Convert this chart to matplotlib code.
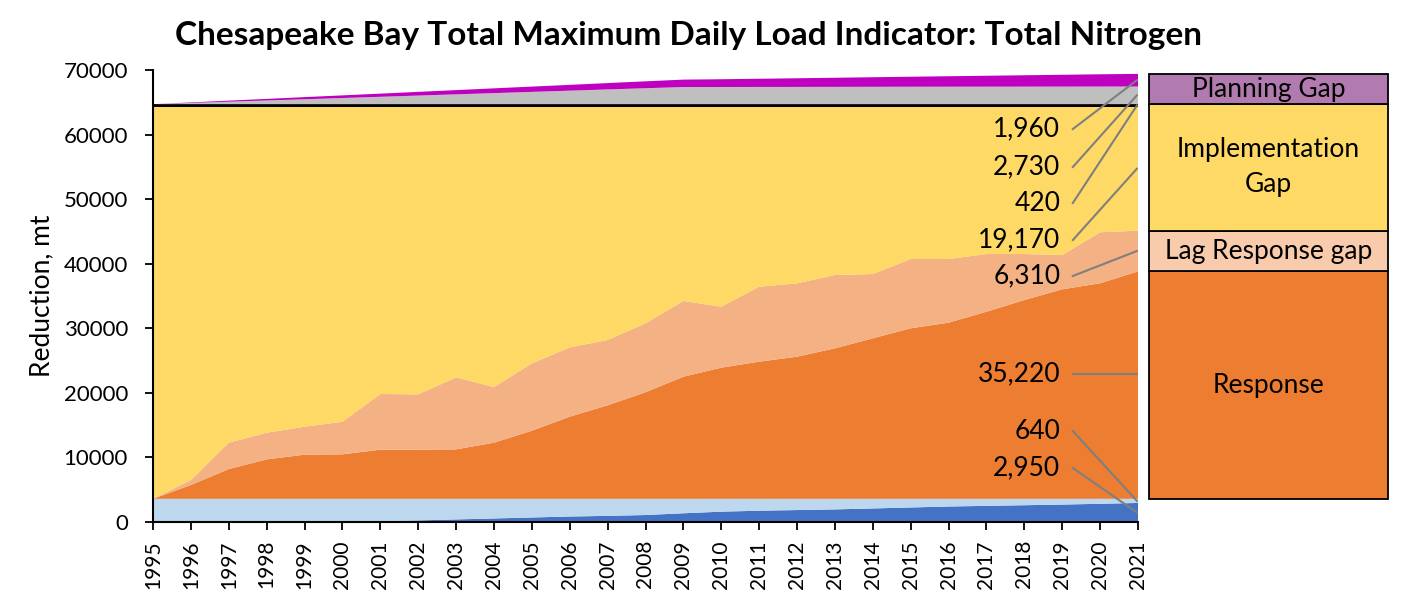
import numpy as np
import matplotlib
matplotlib.use("Agg")
import matplotlib.pyplot as plt

plt.rcParams['font.family'] = ['Lato', 'DejaVu Sans']

# --- Daten ---
years = list(range(1995, 2022))

bmp_dark = [0, 0, 0, 0, 0, 50, 150, 250, 400, 550, 700, 850, 950, 1080,
            1350, 1600, 1750, 1850, 1950, 2100, 2250, 2400, 2500, 2600,
            2700, 2820, 2950]
bmp_light = [3590, 3590, 3590, 3590, 3590, 3540, 3440, 3340, 3190, 3040,
             2890, 2740, 2640, 2510, 2240, 1990, 1840, 1740, 1640, 1490,
             1340, 1190, 1090, 990, 890, 770, 640]
response = [0, 2140, 4610, 6110, 6840, 6890, 7610, 7610, 7660, 8690, 10550,
            12720, 14480, 16510, 18910, 20310, 21240, 22010, 23310, 24860,
            26410, 27280, 28980, 30790, 32450, 33380, 35220]
lag_gap = [0, 770, 4080, 4130, 4330, 5050, 8620, 8570, 11150, 8620, 10430,
           10740, 10120, 10670, 11730, 9450, 11610, 11360, 11350, 9950,
           10730, 9860, 8930, 7120, 5310, 7900, 6310]
impl_gap = [60700, 57790, 52010, 50460, 49530, 48760, 44470, 44520, 41890,
            43390, 39720, 37240, 36100, 33520, 30060, 30940, 27850, 27330,
            26040, 25890, 23560, 23560, 22790, 22790, 22940, 19420, 19170]
black_band = [420] * len(years)
gray_gap = [0, 190, 380, 570, 760, 950, 1140, 1330, 1520, 1710, 1900, 2090,
            2280, 2470, 2650, 2660, 2665, 2670, 2680, 2690, 2700, 2705, 2710,
            2715, 2720, 2725, 2730]
planning = [0, 80, 165, 245, 330, 410, 490, 575, 655, 740, 820, 900, 985,
            1065, 1150, 1200, 1270, 1340, 1410, 1480, 1550, 1620, 1690, 1760,
            1830, 1900, 1960]

layers = [bmp_dark, bmp_light, response, lag_gap, impl_gap, black_band,
          gray_gap, planning]
farben = ['#4472C4', '#BDD7EE', '#ED7D31', '#F4B183', '#FFD966', '#000000',
          '#BFBFBF', '#C000C0']
werte_labels = ['2,950', '640', '35,220', '6,310', '19,170', '420', '2,730', '1,960']
label_y = [8360, 14090, 22920, 38100, 43670, 49400, 54980, 60860]

legend_namen = ['Response', 'Lag Response gap', 'Implementation\nGap', 'Planning Gap']
legend_werte = [35220, 6310, 19170 + 420, 2730 + 1960]
legend_farben = ['#ED7D31', '#F8CBAD', '#FFD966', '#B27BAF']

fig = plt.figure(figsize=(14.08, 6.07), dpi=100)
ax = fig.add_axes([153/1408, 1 - 522/607, 985/1408, 452/607])

ax.stackplot(years, *layers, colors=farben, linewidth=0)

ax.set_xlim(1995, 2021)
ax.set_ylim(0, 70000)
ax.set_xticks(years)
ax.set_xticklabels([str(y) for y in years], rotation=90, fontsize=15)
ax.set_yticks(range(0, 70001, 10000))
ax.tick_params(axis='y', labelsize=16, length=6, width=1.3, pad=12)
ax.tick_params(axis='x', length=6, width=1.3, pad=7)
for s in ['top', 'right']:
    ax.spines[s].set_visible(False)
for s in ['left', 'bottom']:
    ax.spines[s].set_linewidth(1.5)

# Beschriftungen mit Linien
stack = np.cumsum(np.array(layers), axis=0)
for i, (txt, ly) in enumerate(zip(werte_labels, label_y)):
    top = stack[i][-1]
    bot = stack[i - 1][-1] if i > 0 else 0
    ziel = (top + bot) / 2
    if txt == '35,220':
        ziel = ly
    ax.plot([2019.28, 2020.97], [ly, ziel], color='#7F7F7F',
            lw=1.5, clip_on=False)
    ax.text(2018.95, ly, txt, ha='right', va='center', fontsize=19)

fig.text(0.489, 0.942, 'Chesapeake Bay Total Maximum Daily Load Indicator: Total Nitrogen',
         ha='center', va='center', fontsize=24, fontweight='bold')
fig.text(0.03, 0.512, 'Reduction, mt', rotation=90, ha='center', va='center', fontsize=19)

# Legende als gestapelter Balken
ax2 = fig.add_axes([1149/1408, 1 - 522/607, 239/1408, 452/607])
ax2.set_xlim(0, 1)
ax2.set_ylim(0, 70000)
ax2.axis('off')
unten = 3590
for name, w, c in zip(legend_namen, legend_werte, legend_farben):
    ax2.bar(0.5, w, bottom=unten, width=1, color=c, edgecolor='black',
            linewidth=1.3, clip_on=False)
    ax2.text(0.5, unten + w / 2, name, ha='center', va='center', fontsize=19,
             linespacing=1.5)
    unten += w

fig.savefig('out.png', dpi=100)
